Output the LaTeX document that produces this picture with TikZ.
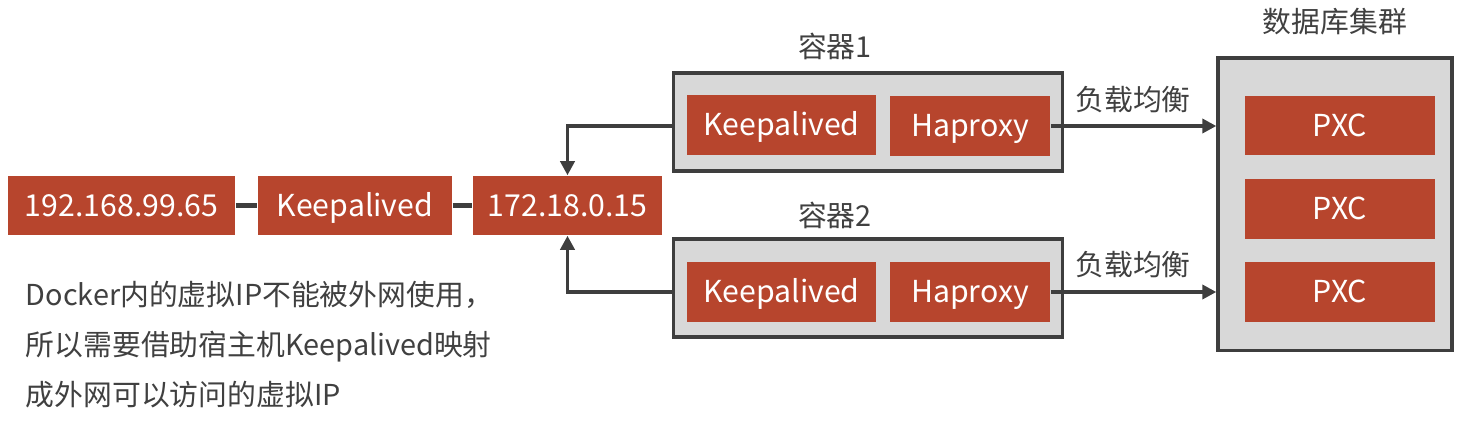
\documentclass[tikz,border=0pt]{standalone}
\usepackage{fontspec}
\setmainfont{Noto Sans CJK SC}
\usetikzlibrary{arrows.meta}
\definecolor{boxred}{RGB}{183,69,45}
\definecolor{grpgray}{RGB}{216,216,216}
\definecolor{lineclr}{RGB}{62,62,62}
\definecolor{txtclr}{RGB}{64,64,64}
\tikzset{
  redbox/.style={draw=none, fill=boxred, text=white, inner sep=0pt, minimum height=0.59cm, text height=7.6pt, text depth=1.4pt, font=\fontsize{8.6}{10}\selectfont},
  grpbox/.style={draw=lineclr, fill=grpgray, line width=0.9pt, inner sep=0pt},
  figlbl/.style={draw=none, fill=none, text=txtclr, inner sep=0pt, font=\fontsize{8.2}{10}\selectfont},
  note/.style={figlbl, anchor=west},
  link/.style={draw=lineclr, line width=1.5pt},
  flow/.style={draw=lineclr, line width=1pt, -{Triangle[length=4pt,width=4pt]}},
}

\begin{document}
\begin{tikzpicture}[x=0.01cm, y=-0.01cm]
\useasboundingbox (0,0) rectangle (1462,442);
\node[redbox, minimum width=2.27cm] (hostip) at (121.5,205.5) {192.168.99.65};
\node[redbox, minimum width=1.94cm] (hostkp) at (355,205.5) {Keepalived};
\node[redbox, minimum width=1.89cm] (vip) at (567.5,205.5) {172.18.0.15};
\draw[link] (hostip) -- (hostkp);
\draw[link] (hostkp) -- (vip);

\node[grpbox, minimum width=3.88cm, minimum height=0.98cm] (ctr1) at (868,122) {};
\node[redbox, minimum width=1.89cm, minimum height=0.6cm] (ctr1kp) at (781.5,125) {Keepalived};
\node[redbox, minimum width=1.6cm, minimum height=0.6cm] (ctr1hp) at (970,126) {Haproxy};
\node[figlbl] (ctr1lbl) at (835,46) {容器1};

\node[grpbox, minimum width=3.88cm, minimum height=0.98cm] (ctr2) at (868,288) {};
\node[redbox, minimum width=1.89cm, minimum height=0.6cm] (ctr2kp) at (781.5,292) {Keepalived};
\node[redbox, minimum width=1.6cm, minimum height=0.6cm] (ctr2hp) at (970,292) {Haproxy};
\node[figlbl] (ctr2lbl) at (835,215) {容器2};

\node[grpbox, minimum width=2.34cm, minimum height=2.92cm] (db) at (1335,204) {};
\node[figlbl] (dblbl) at (1335,22) {数据库集群};
\node[redbox, minimum width=1.9cm] (pxc1) at (1340,125.5) {PXC};
\node[redbox, minimum width=1.9cm] (pxc2) at (1340,209) {PXC};
\node[redbox, minimum width=1.9cm] (pxc3) at (1340,292) {PXC};

\draw[flow] (ctr1.west |- ctr1hp.east) -| (vip.north);
\draw[flow] (ctr2.west |- ctr2hp.east) -| (vip.south);
\draw[flow] (ctr1hp.east) -- (db.west |- ctr1hp.east);
\draw[flow] (ctr2hp.east) -- (db.west |- ctr2hp.east);
\node[figlbl] (lb1) at (1133,100) {负载均衡};
\node[figlbl] (lb2) at (1133,265) {负载均衡};

\node[note] (note1) at (25,295) {Docker内的虚拟IP不能被外网使用，};
\node[note] (note2) at (25,347) {所以需要借助宿主机Keepalived映射};
\node[note] (note3) at (25,395) {成外网可以访问的虚拟IP};
\end{tikzpicture}
\end{document}
